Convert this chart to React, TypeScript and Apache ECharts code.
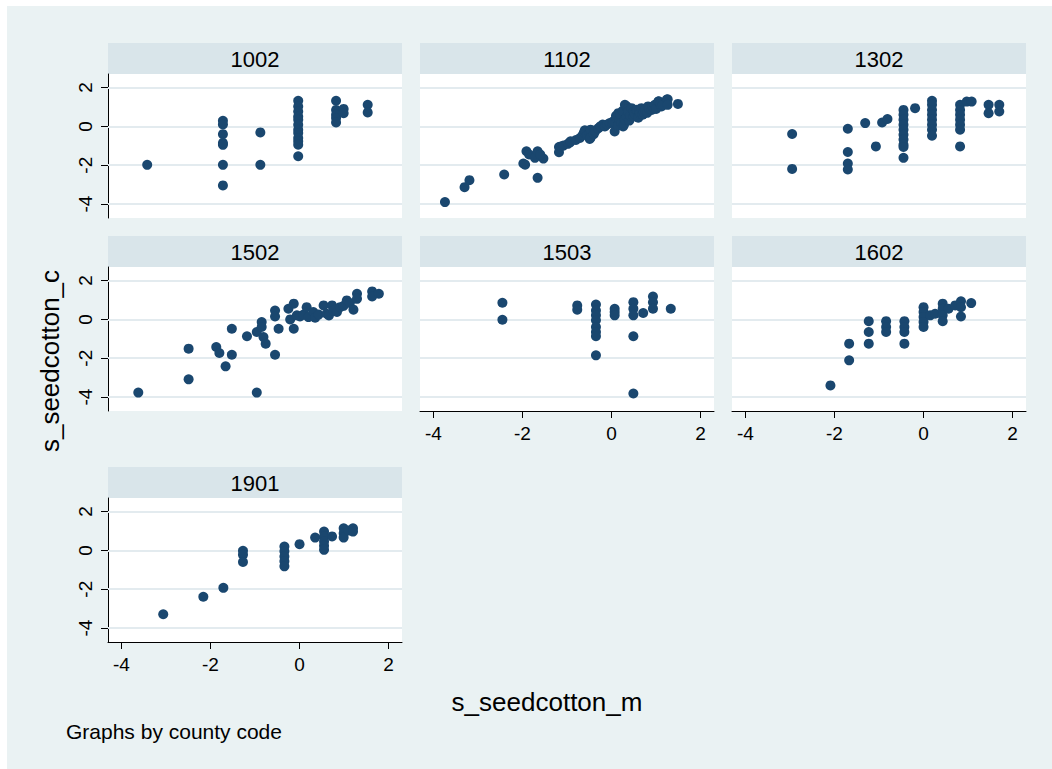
import React, { useEffect, useRef } from "react";
import * as echarts from "echarts";

// ---- data ----
const panelNames = ["1002", "1102", "1302", "1502", "1503", "1602", "1901"];
const tickValues = [-4, -2, 0, 2];
const xTitle = "s_seedcotton_m";
const yTitle = "s_seedcotton_c";
const noteText = "Graphs by county code";

const p1002: number[][] = [
  [-3.42, -1.98],
  [-1.72, 0.29], [-1.72, 0.1], [-1.72, -0.4], [-1.72, -0.85], [-1.72, -0.95], [-1.72, -1.98], [-1.72, -3.04],
  [-0.88, -0.31], [-0.88, -1.98],
  [-0.03, 1.32], [-0.03, 1.03], [-0.03, 0.77], [-0.03, 0.51], [-0.03, 0.34], [-0.03, 0.09], [-0.03, -0.17],
  [-0.03, -0.34], [-0.03, -0.6], [-0.03, -0.77], [-0.03, -0.94], [-0.03, -1.54],
  [0.82, 1.32], [0.82, 0.85], [0.82, 0.6], [0.82, 0.43], [0.82, 0.2], [0.99, 0.9], [0.99, 0.68],
  [1.53, 1.11], [1.53, 0.72],
];

const p1102: number[][] = [
  [-3.74, -3.9], [-3.3, -3.13], [-3.19, -2.77], [-2.41, -2.48], [-1.98, -1.91], [-1.94, -1.97],
  [-1.91, -1.28], [-1.85, -1.45], [-1.72, -1.62], [-1.66, -1.28], [-1.66, -2.65], [-1.53, -1.66], [-1.6, -1.45],
  [-1.18, -1.06], [-1.18, -1.33], [-1.14, -1.03], [-1.08, -0.99], [-0.98, -0.9], [-0.93, -0.82], [-0.92, -0.77],
  [-0.8, -0.7], [-0.71, -0.6], [-0.65, -0.45], [-0.62, -0.32], [-0.6, -0.2], [-0.55, -0.45], [-0.49, -0.34], [-0.49, -0.65],
  [-0.47, -0.17], [-0.47, -0.58], [-0.4, -0.4], [-0.37, -0.26], [-0.3, -0.1], [-0.26, -0.03], [-0.25, 0], [-0.2, 0.1], [-0.15, 0],
  [-0.1, 0.1], [-0.04, 0.17], [0.01, 0.19], [0.04, 0.26], [0.07, -0.26], [0.1, 0.55], [0.11, 0.43], [0.15, 0.68], [0.15, 0.05],
  [0.18, 0.35], [0.2, 0.6], [0.22, 0.17], [0.25, 0.8], [0.26, 0], [0.28, 0.09], [0.3, 1.11], [0.3, 0.35], [0.34, 0.51], [0.34, 1.03],
  [0.36, 0.9], [0.37, 0.77], [0.4, 0.3], [0.42, 0.55], [0.45, 0.94], [0.49, 0.51], [0.5, 0.75], [0.52, 0.65], [0.56, 0.85],
  [0.57, 0.86], [0.6, 0.45], [0.62, 0.8], [0.64, 0.68], [0.67, 0.94], [0.7, 0.6], [0.72, 0.75], [0.75, 0.85], [0.8, 0.7],
  [0.82, 1.03], [0.85, 0.9], [0.9, 0.85], [0.92, 1.0], [0.95, 0.95], [0.97, 1.11], [1.0, 0.9], [1.05, 1.28], [1.06, 1.29],
  [1.1, 1.15], [1.12, 1.03], [1.15, 1.1], [1.24, 1.38], [1.26, 1.4], [1.26, 1.11], [1.49, 1.16],
];

const p1302: number[][] = [
  [-2.95, -0.39], [-2.95, -2.19],
  [-1.7, -0.12], [-1.7, -1.32], [-1.7, -1.91], [-1.7, -2.22],
  [-1.31, 0.17], [-1.07, -1.03], [-0.93, 0.2], [-0.81, 0.38],
  [-0.45, 0.85], [-0.45, 0.6], [-0.45, 0.34], [-0.45, 0.09], [-0.45, -0.17], [-0.45, -0.43], [-0.45, -0.68],
  [-0.45, -0.94], [-0.45, -1.06], [-0.45, -1.62],
  [-0.19, 0.94],
  [0.19, 1.32], [0.19, 1.11], [0.19, 0.85], [0.19, 0.6], [0.19, 0.34], [0.19, 0.09], [0.19, -0.17], [0.19, -0.48],
  [0.82, 1.11], [0.82, 0.85], [0.82, 0.6], [0.82, 0.34], [0.82, 0.09], [0.82, -0.17], [0.82, -1.03],
  [0.97, 1.28], [1.08, 1.28],
  [1.46, 1.11], [1.46, 0.68], [1.7, 1.11], [1.7, 0.77],
];

const p1502: number[][] = [
  [-3.62, -3.77], [-2.49, -1.51], [-2.49, -3.09], [-1.87, -1.42], [-1.8, -1.73], [-1.66, -2.42],
  [-1.52, -0.48], [-1.52, -1.82], [-1.18, -0.87], [-0.96, -3.77], [-0.96, -0.65], [-0.85, -0.14],
  [-0.85, -0.39], [-0.81, -0.91], [-0.76, -1.25], [-0.55, 0.46], [-0.55, 0.15], [-0.55, -1.82],
  [-0.47, -0.48], [-0.25, 0.55], [-0.13, 0.81], [-0.13, -0.48], [-0.21, 0], [-0.06, 0.21],
  [0.01, 0.15], [0.09, 0.25], [0.16, 0.63], [0.2, 0.12], [0.31, 0.38], [0.35, 0.09], [0.43, 0.25],
  [0.54, 0.72], [0.61, 0.29], [0.66, 0.2], [0.73, 0.72], [0.76, 0.45], [0.84, 0.38], [0.91, 0.63],
  [0.99, 0.7], [1.06, 0.98], [1.13, 0.85], [1.21, 0.5], [1.29, 1.32], [1.29, 1.06],
  [1.63, 1.44], [1.63, 1.18], [1.78, 1.32],
];

const p1503: number[][] = [
  [-2.45, 0.86], [-2.45, -0.02],
  [-0.77, 0.72], [-0.77, 0.5],
  [-0.35, 0.77], [-0.35, 0.46], [-0.35, 0.21], [-0.35, -0.05], [-0.35, -0.39], [-0.35, -0.65], [-0.35, -0.87],
  [-0.35, -1.85],
  [0.07, 0.55], [0.07, 0.38], [0.07, 0.21],
  [0.49, 0.89], [0.49, 0.55], [0.49, 0.21], [0.49, -0.87], [0.49, -3.82],
  [0.71, 0.33], [0.93, 1.18], [0.93, 0.89], [0.93, 0.55], [1.33, 0.55],
];

const p1602: number[][] = [
  [-2.09, -3.4], [-1.67, -1.25], [-1.67, -2.11],
  [-1.23, -0.09], [-1.23, -0.65], [-1.23, -1.25],
  [-0.84, -0.09], [-0.84, -0.39], [-0.84, -0.65],
  [-0.43, -0.09], [-0.43, -0.39], [-0.43, -0.65], [-0.43, -1.25],
  [0, 0.63], [0, 0.38], [0, 0.12], [0, -0.14], [0, -0.39],
  [0.15, 0.21], [0.26, 0.29],
  [0.43, 0.81], [0.43, 0.55], [0.43, 0.21], [0.43, -0.09],
  [0.56, 0.55], [0.71, 0.72], [0.84, 0.93], [0.84, 0.63], [0.84, 0.15], [1.07, 0.84],
];

const p1901: number[][] = [
  [-3.06, -3.29], [-2.16, -2.39], [-1.71, -1.93],
  [-1.27, -0.02], [-1.27, -0.22], [-1.27, -0.6],
  [-0.34, 0.2], [-0.34, -0.05], [-0.34, -0.31], [-0.34, -0.56], [-0.34, -0.82],
  [0, 0.32], [0.35, 0.66],
  [0.55, 0.97], [0.55, 0.72], [0.55, 0.46], [0.55, 0.24], [0.55, 0.03],
  [0.73, 0.72], [0.99, 1.14], [0.99, 0.89], [0.99, 0.66], [1.1, 1.02], [1.2, 1.14], [1.2, 0.97],
];

const panelData = [p1002, p1102, p1302, p1502, p1503, p1602, p1901];

// ---- layout ----
const OX = 7;
const OY = 6;
const colLeft = [108, 420, 732];
const rowTop = [74, 267, 498];
const plotW = 294;
const plotH = 144;
const headH = 31;
const panelPos = [
  { c: 0, r: 0, y: true, x: false },
  { c: 1, r: 0, y: false, x: false },
  { c: 2, r: 0, y: false, x: false },
  { c: 0, r: 1, y: true, x: false },
  { c: 1, r: 1, y: false, x: true },
  { c: 2, r: 1, y: false, x: true },
  { c: 0, r: 2, y: true, x: true },
];

const FONT = "'Liberation Sans', Arial, Helvetica, sans-serif";
const MARK = "#1a476f";
const BG = "#eaf2f3";
const HEAD = "#d9e5ea";
const GRIDC = "#e3ebef";

export default function App() {
  const ref = useRef<HTMLDivElement>(null);
  useEffect(() => {
    if (!ref.current) return;
    const chart = echarts.init(ref.current, null, { renderer: "svg" });
    const grids: any[] = [];
    const xAxes: any[] = [];
    const yAxes: any[] = [];
    const series: any[] = [];
    const graphics: any[] = [];
    panelPos.forEach((p, i) => {
      const left = colLeft[p.c] - OX;
      const top = rowTop[p.r] - OY;
      grids.push({
        left, top, width: plotW, height: plotH,
        show: true, backgroundColor: "#ffffff", borderWidth: 0,
      });
      xAxes.push({
        type: "value", gridIndex: i, min: -4.3, max: 2.3, show: p.x,
        axisLine: { show: true, onZero: false, lineStyle: { color: "#000", width: 1 } },
        axisTick: { show: true, length: 7, customValues: tickValues, lineStyle: { color: "#000", width: 1 } },
        axisLabel: { show: true, customValues: tickValues, fontSize: 19, color: "#000", margin: 13, fontFamily: FONT },
        splitLine: { show: false },
      });
      yAxes.push({
        type: "value", gridIndex: i, min: -4.72, max: 2.7, show: p.y,
        axisLine: { show: true, onZero: false, lineStyle: { color: "#000", width: 1 } },
        axisTick: { show: true, length: 7, customValues: tickValues, lineStyle: { color: "#000", width: 1 } },
        axisLabel: { show: true, customValues: tickValues, rotate: 90, fontSize: 19, color: "#000", margin: 13, fontFamily: FONT },
        splitLine: { show: false },
      });
      series.push({
        type: "scatter", xAxisIndex: i, yAxisIndex: i, data: panelData[i],
        symbol: "circle", symbolSize: 10, z: 3,
        itemStyle: { color: MARK, opacity: 1 },
        markLine: {
          silent: true, z: 1, symbol: ["none", "none"], label: { show: false },
          lineStyle: { color: GRIDC, width: 2, type: "solid" },
          data: tickValues.map((v) => ({ yAxis: v })),
        },
      });
      graphics.push({
        type: "rect", shape: { x: left, y: top - headH, width: plotW, height: headH },
        style: { fill: HEAD }, silent: true,
      });
      graphics.push({
        type: "text", x: left + plotW / 2, y: top - headH / 2 + 1,
        style: { text: panelNames[i], fill: "#000", fontSize: 22, fontFamily: FONT, align: "center", verticalAlign: "middle" },
        silent: true,
      });
    });
    graphics.push({
      type: "text", x: 50 - OX, y: 361 - OY, rotation: Math.PI / 2,
      style: { text: yTitle, fill: "#000", fontSize: 26, fontFamily: FONT, align: "center", verticalAlign: "middle" },
    });
    graphics.push({
      type: "text", x: 547 - OX, y: 702 - OY,
      style: { text: xTitle, fill: "#000", fontSize: 26, fontFamily: FONT, align: "center", verticalAlign: "middle" },
    });
    graphics.push({
      type: "text", x: 66 - OX, y: 731 - OY,
      style: { text: noteText, fill: "#000", fontSize: 21, fontFamily: FONT, align: "left", verticalAlign: "middle" },
    });
    chart.setOption({
      animation: false,
      backgroundColor: BG,
      grid: grids,
      xAxis: xAxes,
      yAxis: yAxes,
      series,
      graphic: graphics,
    });
    return () => chart.dispose();
  }, []);
  return (
    <div style={{ position: "fixed", left: 0, top: 0, width: 1052, height: 769, background: "#ffffff" }}>
      <div ref={ref} style={{ position: "absolute", left: OX, top: OY, width: 1052 - OX, height: 769 - OY }} />
    </div>
  );
}
